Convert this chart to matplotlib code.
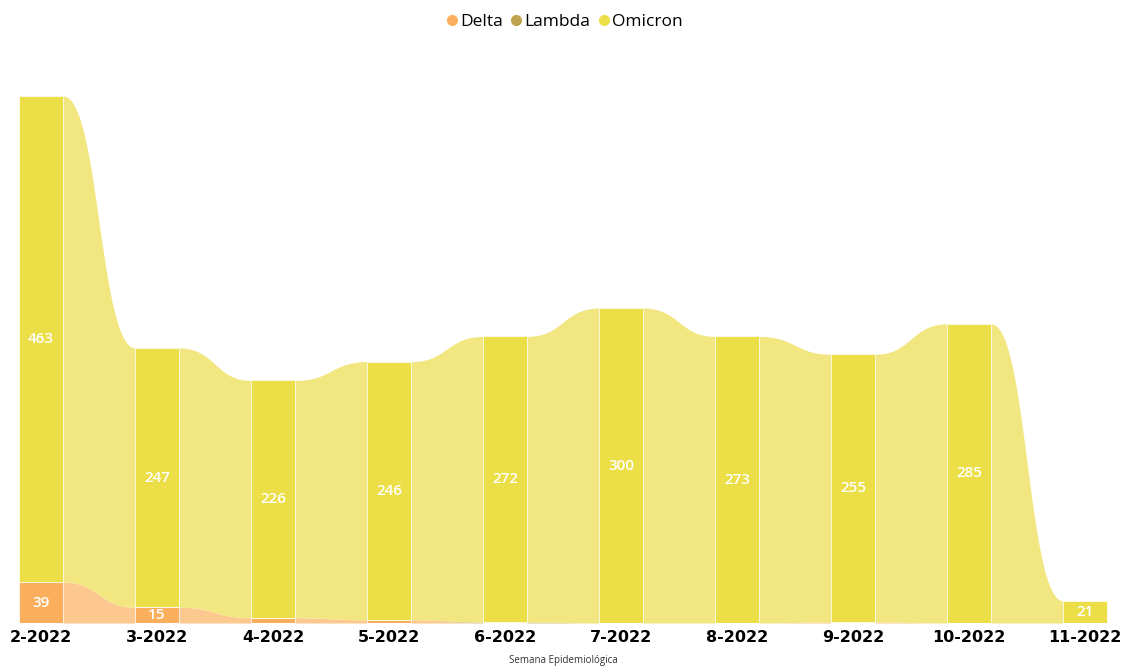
import numpy as np
import matplotlib
matplotlib.use("Agg")
from matplotlib import pyplot as plt
from matplotlib.lines import Line2D

semanas = ['2-2022', '3-2022', '4-2022', '5-2022', '6-2022',
           '7-2022', '8-2022', '9-2022', '10-2022', '11-2022']
delta = [39, 15, 5, 3, 0, 0, 0, 1, 0, 0]
lambda_ = [0, 0, 0, 0, 1, 0, 0, 0, 0, 0]
omicron = [463, 247, 226, 246, 272, 300, 273, 255, 285, 21]

series = [('Delta', delta, '#FBAF5D', '#FDC88F'),
          ('Lambda', lambda_, '#BFA34E', '#D8C68A'),
          ('Omicron', omicron, '#ECDE47', '#F1E680')]

fig = plt.figure(figsize=(11.26, 6.67), dpi=100)
ax = fig.add_axes([0, 44 / 667, 1, 623 / 667])

X = np.arange(len(semanas))
w = 44 / 116
ax.set_xlim(-41 / 116, (1126 - 41) / 116)
ax.set_ylim(0, 623 / 1.0498)

# cubic bezier with horizontal tangents (controls at the middle of the gap)
t = np.linspace(0, 1, 80)
bx = 3 * (1 - t)**2 * t * 0.5 + 3 * (1 - t) * t**2 * 0.5 + t**3
by = 3 * (1 - t) * t**2 + t**3

base = np.zeros(len(semanas))
for name, vals, bar_col, rib_col in series:
    vals = np.array(vals, dtype=float)
    top = base + vals
    # ribbons between bars
    for i in range(len(X) - 1):
        x0 = X[i] + w / 2
        x1 = X[i + 1] - w / 2
        xs = x0 + (x1 - x0) * bx
        lo = base[i] + (base[i + 1] - base[i]) * by
        hi = top[i] + (top[i + 1] - top[i]) * by
        ax.fill_between(xs, lo, hi, color=rib_col, lw=0, zorder=1)
    ax.bar(X, vals, bottom=base, width=w, color=bar_col, edgecolor='white',
           linewidth=0.5, zorder=2)
    for i, v in enumerate(vals):
        if v >= 10:
            ax.text(X[i], base[i] + v / 2, f'{int(v)}', color='white',
                    ha='center', va='center', fontsize=11, fontweight='semibold',
                    family='Open Sans', zorder=3)
    base = top

ax.set_xticks(X)
ax.set_xticklabels(semanas, fontsize=11.5, fontweight='bold',
                   family='DejaVu Sans', color='black')
ax.tick_params(axis='x', length=0, pad=5)
ax.set_yticks([])
for sp in ax.spines.values():
    sp.set_visible(False)

fig.text(563 / 1126, 1 - 660 / 667, 'Semana Epidemiológica', ha='center',
         va='center', fontsize=7, family='Open Sans', color='#333333')

handles = [Line2D([0], [0], marker='o', color='none', markerfacecolor=c,
                  markeredgecolor=c, markersize=7) for _, _, c, _ in series]
fig.legend(handles, [n for n, _, _, _ in series], loc='center',
           bbox_to_anchor=(562 / 1126, 1 - 22 / 667), ncol=3, frameon=False,
           prop={'family': 'Open Sans', 'size': 12.5}, handletextpad=-0.1,
           columnspacing=0.15, handlelength=1.2)

fig.savefig('out.png', dpi=100)
